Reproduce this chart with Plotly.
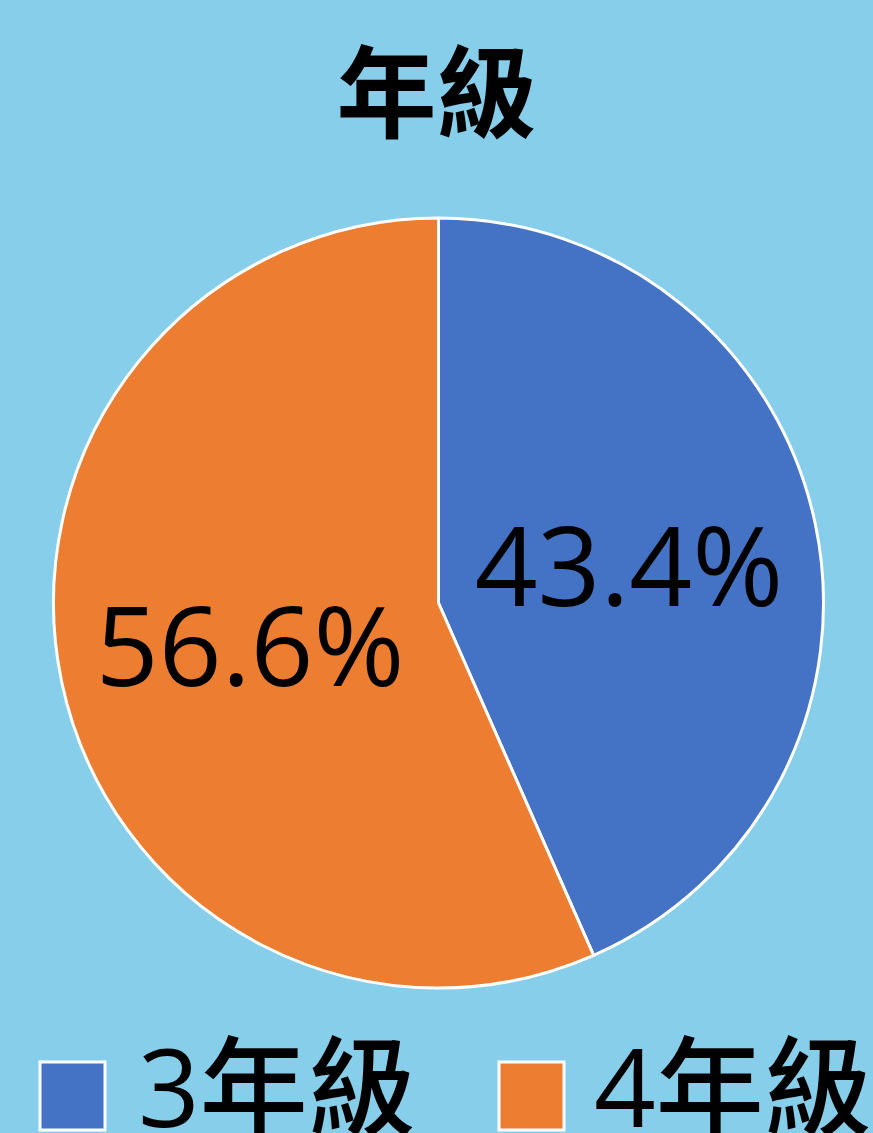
import plotly.graph_objects as go

categories = ["3年級", "4年級"]
values = [43.4, 56.6]
colors = ["#4472C4", "#ED7D31"]
title_text = "年級"

W, H = 873, 1133
FONT = "Open Sans, Noto Sans CJK TC"

fig = go.Figure()
fig.add_trace(go.Pie(
    labels=categories,
    values=values,
    sort=False,
    direction="clockwise",
    rotation=0,
    marker=dict(colors=colors, line=dict(color="white", width=3)),
    texttemplate="%{percent:.1%}",
    textposition="inside",
    insidetextorientation="horizontal",
    textfont=dict(family=FONT, size=110, color="black", weight=500),
    showlegend=False,
    domain=dict(x=[53 / W, 824 / W], y=[1 - 988 / H, 1 - 218 / H]),
    hoverinfo="label+percent",
))

# manual legend (large squares), built from categories/colors
leg_sq_x = [40, 499]
leg_txt_x = [136, 592]
for i, (cat, col) in enumerate(zip(categories, colors)):
    fig.add_shape(type="rect", xref="paper", yref="paper",
                  x0=leg_sq_x[i] / W, x1=(leg_sq_x[i] + 65) / W,
                  y0=1 - 1130 / H, y1=1 - 1062 / H,
                  fillcolor=col, line=dict(color="white", width=3))
    fig.add_annotation(text=cat, xref="paper", yref="paper",
                       x=leg_txt_x[i] / W, y=1 - 1085 / H,
                       xanchor="left", yanchor="middle", showarrow=False,
                       font=dict(family=FONT, size=108, color="black", weight=500))

fig.update_layout(
    width=W, height=H,
    margin=dict(l=0, r=0, t=0, b=0),
    paper_bgcolor="#87CEEB",
    plot_bgcolor="#87CEEB",
    title=dict(text="<b>" + title_text + "</b>", x=0.5, xanchor="center",
               y=1 - 95 / H, yanchor="middle",
               font=dict(family="Noto Sans CJK TC", size=100, color="black")),
)

fig.write_html("out.html", config={"displayModeBar": False},
               post_script="document.body.style.margin='0';document.body.style.background='#87CEEB';")
